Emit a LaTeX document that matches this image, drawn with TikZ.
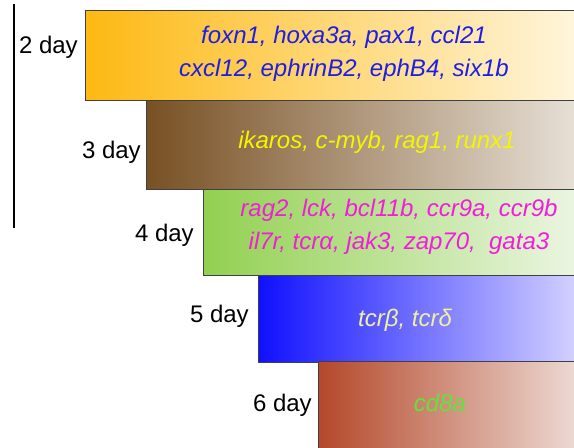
\documentclass[tikz,border=0pt]{standalone}
\usepackage{fontspec}
\setmainfont{Liberation Sans}
\begin{document}
\begin{tikzpicture}[x=0.75pt,y=-0.75pt,
  stage/.style={draw=black!75,line width=0.6pt,anchor=north west,inner sep=0pt,minimum height=#1*0.75pt},
  genes/.style={font=\fontsize{18}{24.75}\selectfont\itshape,align=center,inner sep=0pt},
  daylabel/.style={font=\fontsize{18}{20}\selectfont,anchor=east,inner sep=0pt}]
\useasboundingbox (0,0) rectangle (574,447);
\begin{scope}
\clip (0,0) rectangle (574,447);
% stage bars, each shaded from a saturated left edge to a pale right edge
\node[stage=90,minimum width=495*0.75pt,left color={rgb,255:red,253;green,185;blue,19},right color={rgb,255:red,255;green,246;blue,222}] (b2) at (85,10) {};
\node[stage=89,minimum width=435*0.75pt,left color={rgb,255:red,120;green,80;blue,36},right color={rgb,255:red,232;green,226;blue,216}] (b3) at (146,100) {};
\node[stage=86,minimum width=378*0.75pt,left color={rgb,255:red,146;green,208;blue,80},right color={rgb,255:red,236;green,246;blue,228}] (b4) at (203,189) {};
\node[stage=87,minimum width=323*0.75pt,left color={rgb,255:red,16;green,16;blue,255},right color={rgb,255:red,214;green,212;blue,255}] (b5) at (258,275) {};
\node[stage=95,minimum width=263*0.75pt,left color={rgb,255:red,180;green,72;blue,42},right color={rgb,255:red,238;green,220;blue,214}] (b6) at (318,361) {};
\end{scope}
% time axis
\draw[line width=0.8pt] (14,4) coordinate (axtop) -- (14,228) coordinate (axbot);
% day labels
\node[daylabel] (d2) at (78,47) {2 day};
\node[daylabel] (d3) at (141,152) {3 day};
\node[daylabel] (d4) at (194,235) {4 day};
\node[daylabel] (d5) at (249,316) {5 day};
\node[daylabel] (d6) at (312,405) {6 day};
% gene lists
\node[genes,text={rgb,255:red,30;green,30;blue,230}] (g2) at (344,54) {foxn1, hoxa3a, pax1, ccl21\\cxcl12, ephrinB2, ephB4, six1b};
\node[genes,text={rgb,255:red,245;green,245;blue,0}] (g3) at (377,142) {ikaros, c-myb, rag1, runx1};
\node[genes,text={rgb,255:red,240;green,30;blue,215}] (g4) at (399,227) {rag2, lck, bcl11b, ccr9a, ccr9b\\il7r, tcrα, jak3, zap70,\ \ gata3};
\node[genes,text={rgb,255:red,240;green,240;blue,150}] (g5) at (405,320) {tcrβ, tcrδ};
\node[genes,text={rgb,255:red,100;green,225;blue,60}] (g6) at (440,403) {cd8a};
\end{tikzpicture}
\end{document}
